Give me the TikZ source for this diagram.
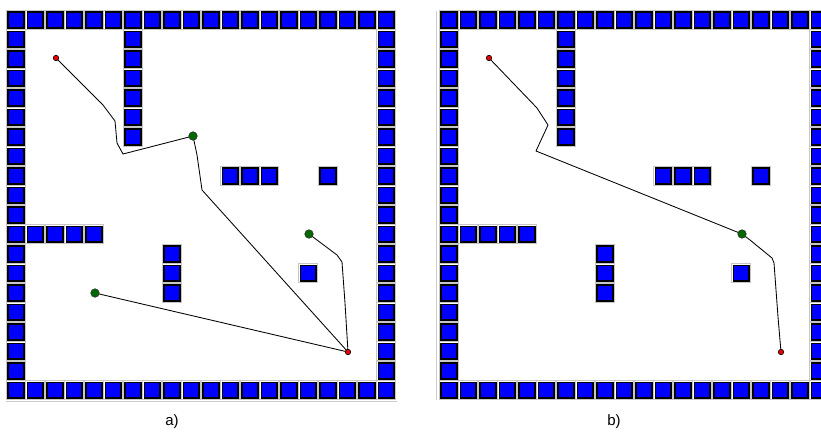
\documentclass[tikz,border=0pt]{standalone}
\usepackage{fontspec}
\setmainfont{Liberation Sans}
\definecolor{cellblue}{RGB}{0,0,255}
\definecolor{dotgreen}{RGB}{0,105,0}
\definecolor{dotred}{RGB}{235,0,0}
\newcommand\wcell[2]{%
  \draw[gray!45, line width=0.9pt] ({#1-0.6},{#2-0.6}) rectangle ++(18.7,18.7);
  \draw[black, line width=1.9pt, fill=cellblue] ({#1+0.95},{#2+0.95}) rectangle ++(15.6,15.6);
}
\begin{document}
\begin{tikzpicture}[x=1pt,y=-1pt,
  route/.style={black, line width=0.85pt, line join=round},
  rdot/.style={circle, fill=dotred, draw=black, line width=0.6pt, inner sep=0pt, minimum size=5.5pt},
  gdot/.style={circle, fill=dotgreen, draw=black!80, line width=0.6pt, inner sep=0pt, minimum size=8.5pt},
  lab/.style={font=\fontsize{15}{17}\selectfont, inner sep=0pt},
  sepline/.style={gray!40, line width=1.3pt}]
\useasboundingbox (0,0) rectangle (821,432);
\fill[white] (0,0) rectangle (821,432);
\clip (0,0) rectangle (821,432);

% separator lines of the screenshots
\draw[sepline] (6,401.5) -- (397,401.5);
\draw[sepline] (436.8,11) -- (436.8,400);

% the two maps
\foreach \xo in {7,440}{
  \foreach \c in {0,...,19}{
    \wcell{\xo+19.5*\c}{11}
    \wcell{\xo+19.5*\c}{11+19.5*19}
  }
  \foreach \r in {1,...,18}{
    \wcell{\xo}{11+19.5*\r}
    \wcell{\xo+19.5*19}{11+19.5*\r}
  }
  \foreach \c/\r in {6/1,6/2,6/3,6/4,6/5,6/6,11/8,12/8,13/8,16/8,1/11,2/11,3/11,4/11,8/12,8/13,8/14,15/13}{
    \wcell{\xo+19.5*\c}{11+19.5*\r}
  }
}

% panel a)
\coordinate (aS) at (56,58);
\coordinate (aG1) at (193,136);
\coordinate (aG2) at (309,234);
\coordinate (aG3) at (95,293);
\coordinate (aE) at (348,352);
\draw[route] (aS) -- (103,105) -- (115,121) -- (117,143) -- (123,154) -- (aG1);
\draw[route] (aG1) -- (197,155) -- (202,190) -- (aE);
\draw[route] (aG2) -- (317,240) -- (337,255) -- (342,262) -- (345,303) -- (aE);
\draw[route] (aG3) -- (aE);
\node[rdot] (aSdot) at (aS) {};
\node[gdot] (aG1dot) at (aG1) {};
\node[gdot] (aG2dot) at (aG2) {};
\node[gdot] (aG3dot) at (aG3) {};
\node[rdot] (aEdot) at (aE) {};

% panel b)
\coordinate (bS) at (489,58);
\coordinate (bG) at (742,234);
\coordinate (bE) at (781,352);
\draw[route] (bS) -- (537,108) -- (548,125) -- (536,151) -- (bG);
\draw[route] (bG) -- (750,240) -- (772,258) -- (774,263) -- (778,317) -- (bE);
\node[rdot] (bSdot) at (bS) {};
\node[gdot] (bGdot) at (bG) {};
\node[rdot] (bEdot) at (bE) {};

% captions
\node[lab] (capa) at (172,422) {a)};
\node[lab] (capb) at (614,422) {b)};
\end{tikzpicture}
\end{document}
